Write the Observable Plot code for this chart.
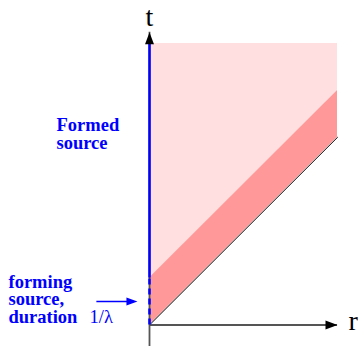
<!DOCTYPE html>
<html><head><meta charset="utf-8">
<script src="https://cdn.jsdelivr.net/npm/d3@7"></script>
<script src="https://cdn.jsdelivr.net/npm/@observablehq/plot@0.6"></script>
<style>body{margin:0;background:#fff}</style>
</head><body><div id="chart"></div>
<script>
// ---- data ----
const rValues = [0, 1];          // r extent of the diagram
const tMax = 1.5;                // t extent of shaded region
const duration = 0.25;           // 1/λ, forming time of the source
const axisLabels = ["t", "r"];
const formedLabel = ["Formed\nsource"];
const formingLabel = ["forming\nsource,\nduration"];
const durationLabel = ["1/λ"];

const rMax = d3.max(rValues);
const tTip = tMax * 1.04;        // y-axis arrow tip
const tFloor = -0.12;            // y-axis extends below origin

const serif = "Liberation Serif";

// filled arrowheads (tip at symbol origin)
const headUp = {draw(ctx) { ctx.moveTo(0, 0); ctx.lineTo(-4.5, 12); ctx.lineTo(4.5, 12); ctx.closePath(); }};
const headRight = {draw(ctx) { ctx.moveTo(0, 0); ctx.lineTo(-12, -4.5); ctx.lineTo(-12, 4.5); ctx.closePath(); }};
const headRightSmall = {draw(ctx) { ctx.moveTo(0, 0); ctx.lineTo(-11, -4); ctx.lineTo(-11, 4); ctx.closePath(); }};

const arrowY = duration / 2;
const arrowStart = -0.28, arrowEnd = -0.064;

const chart = Plot.plot({
  width: 360,
  height: 346,
  marginLeft: 149,
  marginRight: 23,
  marginTop: 43,
  marginBottom: 21.5,
  x: {domain: [0, rMax], axis: null},
  y: {domain: [0, tMax], axis: null},
  style: {background: "#fff", overflow: "visible"},
  marks: [
    // light region: formed source
    Plot.areaY(rValues, {x: d => d, y1: d => d + duration, y2: () => tMax, fill: "#ffdfdf"}),
    // dark band: forming source
    Plot.areaY(rValues, {x: d => d, y1: d => d, y2: d => d + duration, fill: "#ff9999"}),
    // light cone boundary
    Plot.line(rValues, {x: d => d, y: d => d, stroke: "black", strokeWidth: 1}),
    // axes
    Plot.ruleY([0], {x1: 0, x2: rMax, stroke: "#555", strokeWidth: 1.8}),
    Plot.ruleX([0], {y1: tFloor, y2: tTip, stroke: "#555", strokeWidth: 1.8}),
    // source world line
    Plot.ruleX([0], {y1: duration, y2: tMax, stroke: "#0000ff", strokeWidth: 2.5}),
    Plot.ruleX([0], {y1: 0, y2: duration, stroke: "#0000ff", strokeWidth: 2.5, strokeDasharray: "6,4"}),
    // arrowheads
    Plot.dot([0], {x: 0, y: tTip, symbol: headUp, fill: "black", stroke: null, r: 4}),
    Plot.dot([0], {x: rMax, y: 0, symbol: headRight, fill: "black", stroke: null, r: 4}),
    // annotation arrow
    Plot.ruleY([arrowY], {x1: arrowStart, x2: arrowEnd - 0.03, stroke: "#0000ff", strokeWidth: 1.5}),
    Plot.dot([0], {x: arrowEnd, y: arrowY, symbol: headRightSmall, fill: "#0000ff", stroke: null, r: 4}),
    // axis labels
    Plot.text([axisLabels[0]], {x: 0, y: tTip, text: d => d, dy: -6, textAnchor: "middle", lineAnchor: "bottom", fontSize: 28, fontFamily: serif, fill: "black"}),
    Plot.text([axisLabels[1]], {x: rMax, y: 0, text: d => d, dx: 11, dy: 4.5, textAnchor: "start", lineAnchor: "bottom", fontSize: 28, fontFamily: serif, fill: "black"}),
    // text labels
    Plot.text(formedLabel, {x: 0, y: 0.94, text: d => d, dx: -93, textAnchor: "start", lineAnchor: "bottom", fontSize: 18.5, fontFamily: serif, fontWeight: "bold", lineHeight: 0.95, fill: "#0000ff"}),
    Plot.text(formingLabel, {x: 0, y: 0, text: d => d, dx: -141, dy: -2, textAnchor: "start", lineAnchor: "bottom", fontSize: 18.5, fontFamily: serif, fontWeight: "bold", lineHeight: 0.95, fill: "#0000ff"}),
    Plot.text(durationLabel, {x: 0, y: 0, text: d => d, dx: -60, dy: -2, textAnchor: "start", lineAnchor: "bottom", fontSize: 18.5, fontFamily: serif, fill: "#0000ff"})
  ]
});

document.getElementById("chart").append(chart);
</script>
</body></html>
